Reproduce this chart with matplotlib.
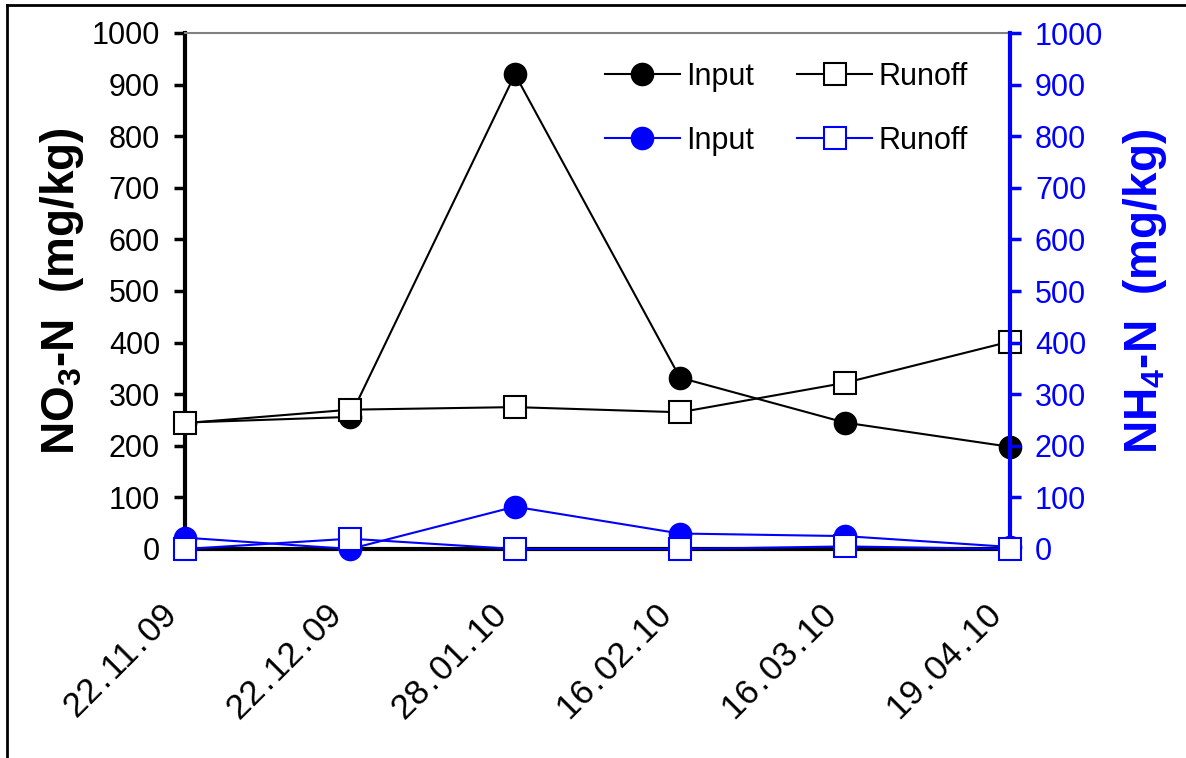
import matplotlib
matplotlib.use("Agg")
import matplotlib.pyplot as plt
from matplotlib.transforms import ScaledTranslation
from matplotlib.lines import Line2D

plt.rcParams['font.family'] = ['Liberation Sans', 'DejaVu Sans']
plt.rcParams['mathtext.fontset'] = 'custom'
plt.rcParams['mathtext.rm'] = 'Liberation Sans'
plt.rcParams['mathtext.bf'] = 'Liberation Sans:bold'
plt.rcParams['mathtext.it'] = 'Liberation Sans:italic'

# ---- data ----
dates = ['22.11.09', '22.12.09', '28.01.10', '16.02.10', '16.03.10', '19.04.10']
no3_input = [245, 256, 920, 332, 245, 198]
no3_runoff = [244, 270, 275, 265, 322, 402]
nh4_input = [22, 0, 82, 30, 25, 4]
nh4_runoff = [0, 20, 0, 0, 5, 0]
yticks = [0, 100, 200, 300, 400, 500, 600, 700, 800, 900, 1000]

BLUE = '#0000FF'
W, H = 1186, 758
fig = plt.figure(figsize=(W / 100, H / 100), dpi=100)
L, R, T, B = 185, 1010, 33, 549
ax = fig.add_axes([L / W, 1 - B / H, (R - L) / W, (B - T) / H])
ax2 = ax.twinx()

x = list(range(len(dates)))
ms = 16
ax.plot(x, no3_input, color='black', lw=1.5, marker='o', ms=ms,
        mfc='black', mec='black', clip_on=False, zorder=3, label='Input')
ax.plot(x, no3_runoff, color='black', lw=1.5, marker='s', ms=ms,
        mfc='white', mec='black', mew=1.5, clip_on=False, zorder=3, label='Runoff')
ax2.plot(x, nh4_input, color=BLUE, lw=1.5, marker='o', ms=ms,
         mfc=BLUE, mec=BLUE, clip_on=False, zorder=3, label='Input')
ax2.plot(x, nh4_runoff, color=BLUE, lw=1.5, marker='s', ms=ms,
         mfc='white', mec=BLUE, mew=1.5, clip_on=False, zorder=3, label='Runoff')

for a in (ax, ax2):
    a.set_xlim(0, len(dates) - 1)
    a.set_ylim(0, 1000)
    a.set_yticks(yticks)

# spines
ax.spines['left'].set_linewidth(3)
ax.spines['left'].set_color('black')
ax.spines['bottom'].set_linewidth(3)
ax.spines['bottom'].set_color('black')
ax.spines['top'].set_color('#808080')
ax.spines['top'].set_linewidth(1.5)
ax.spines['right'].set_visible(False)
for s in ('left', 'bottom', 'top'):
    ax2.spines[s].set_visible(False)
ax2.spines['right'].set_linewidth(3)
ax2.spines['right'].set_color(BLUE)

ax.tick_params(axis='y', direction='out', length=8, width=2.5, pad=10,
               labelsize=22, colors='black')
ax2.tick_params(axis='y', direction='out', length=8, width=2.5, pad=10,
                labelsize=22, colors=BLUE)
ax.tick_params(axis='x', direction='out', length=5, width=2.5, pad=0,
               labelsize=25)
ax2.tick_params(axis='x', bottom=False, top=False, labelbottom=False)

ax.set_xticks(x)
shown = [d.replace('.', '\u200a.\u200a') for d in dates]
ax.set_xticklabels(shown, rotation=45, ha='right', va='center',
                   rotation_mode='anchor', fontsize=25)
off = ScaledTranslation(-0.13, -0.55, fig.dpi_scale_trans)
for lab in ax.get_xticklabels():
    lab.set_transform(lab.get_transform() + off)

ax.set_ylabel(r'NO$_{\mathbf{3}}$-N  (mg/kg)', fontsize=33, fontweight='bold')
ax.yaxis.set_label_coords((86 - L) / (R - L), 0.5)
ax2.set_ylabel(r'NH$_{\mathbf{4}}$-N  (mg/kg)', fontsize=33, fontweight='bold',
               color=BLUE, rotation=90)
ax2.yaxis.set_label_coords((1121 - L) / (R - L), 0.5)

h1, l1 = ax.get_legend_handles_labels()
h2, l2 = ax2.get_legend_handles_labels()
handles = [h1[0], h2[0], h1[1], h2[1]]
labels = [l1[0], l2[0], l1[1], l2[1]]
leg = ax2.legend(handles, labels, ncol=2, frameon=False, fontsize=22,
                 loc='upper left', bbox_to_anchor=(605 / W, 1 - 62 / H),
                 bbox_transform=fig.transFigure, borderpad=0, borderaxespad=0,
                 handlelength=2.45, handletextpad=0.22, columnspacing=1.4,
                 labelspacing=1.1, numpoints=1)

# figure border (left and top)
fig.add_artist(Line2D([7 / W, 7 / W], [0, 1 - 5 / H], color='black', lw=2,
                      transform=fig.transFigure))
fig.add_artist(Line2D([7 / W, 1], [1 - 5 / H, 1 - 5 / H], color='black', lw=2,
                      transform=fig.transFigure))

fig.savefig('out.png', dpi=100)
